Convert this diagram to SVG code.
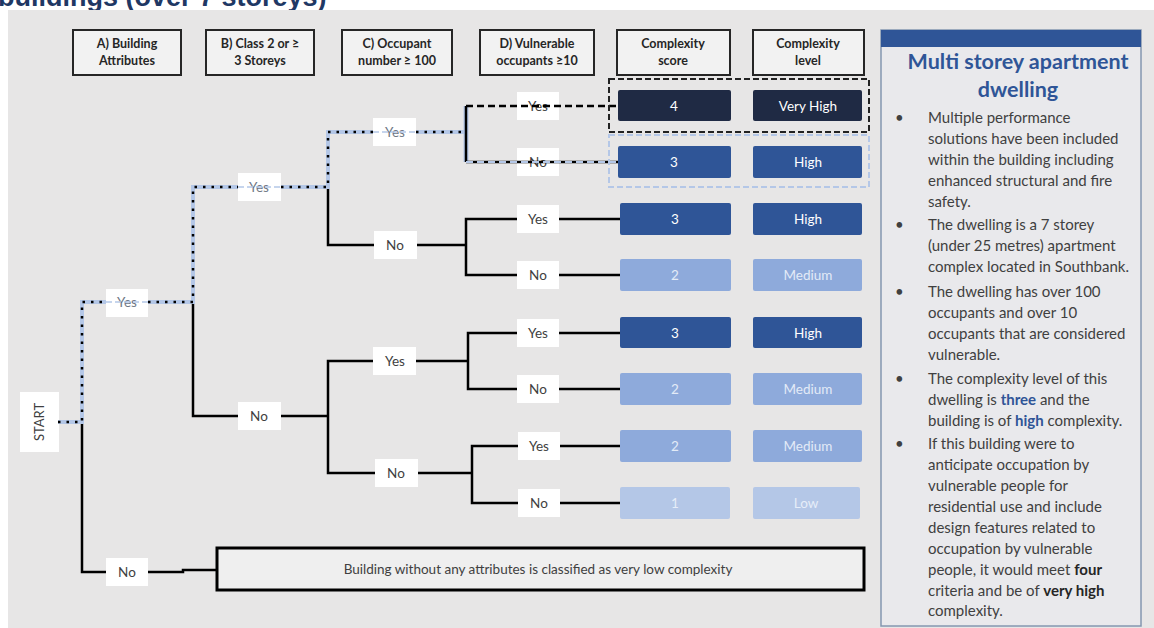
<svg xmlns="http://www.w3.org/2000/svg" width="1154" height="628" viewBox="0 0 1154 628">
<style>
.hdr rect{fill:#f2f2f2;stroke:#262626;stroke-width:2}
.hdr text{font-family:Lato,"Open Sans",sans-serif;font-weight:700;font-size:12.5px;fill:#262626;text-anchor:middle}
.lbl rect{fill:#ffffff}
.lbl text{font-family:Lato,"Open Sans",sans-serif;font-size:13.5px;fill:#404040;text-anchor:middle}
.res rect{rx:2}
.res text{font-family:Lato,"Open Sans",sans-serif;font-size:13.5px;text-anchor:middle}
.ln{fill:none;stroke:#000;stroke-width:2.5}
.hl{fill:none;stroke:#b4c7e7;stroke-width:4}
.dot{fill:none;stroke:#000;stroke-width:2.5;stroke-dasharray:2.5 6}
.strike{fill:none;stroke:#b4c7e7;stroke-width:1.5;stroke-dasharray:6 3}
.pt{font-family:Lato,"Open Sans",sans-serif;font-size:15px;fill:#404040}
</style>
<rect x="0" y="0" width="1154" height="628" fill="#ffffff"/>
<text x="-2" y="6" font-family="'Liberation Sans',Arial,sans-serif" font-weight="700" font-size="27" fill="#1f3864">buildings (over 7 storeys)</text>
<rect x="8" y="10" width="1146" height="618" fill="#e7e6e6"/>

<g id="headers" class="hdr">
<g id="hA"><rect x="73" y="30" width="108" height="45"/><text x="127" y="48">A) Building</text><text x="127" y="65">Attributes</text></g>
<g id="hB"><rect x="206" y="30" width="108" height="45"/><text x="260" y="48">B) Class 2 or ≥</text><text x="260" y="65">3 Storeys</text></g>
<g id="hC"><rect x="342" y="30" width="110" height="45"/><text x="397" y="48">C) Occupant</text><text x="397" y="65">number ≥ 100</text></g>
<g id="hD"><rect x="480" y="30" width="114" height="45"/><text x="537" y="48">D) Vulnerable</text><text x="537" y="65">occupants ≥10</text></g>
<g id="hScore"><rect x="617" y="30" width="113" height="45"/><text x="673" y="48">Complexity</text><text x="673" y="65">score</text></g>
<g id="hLevel"><rect x="753" y="30" width="111" height="45"/><text x="808" y="48">Complexity</text><text x="808" y="65">level</text></g>
</g>

<g id="start"><rect x="20" y="392" width="39" height="60" fill="#ffffff"/><text transform="translate(44,422) rotate(-90)" font-family="Lato,'Open Sans',sans-serif" font-size="13" fill="#404040" text-anchor="middle">START</text></g>

<g id="labels-under" class="lbl">
<g id="dYes1"><rect x="517" y="92" width="42" height="28"/><text x="538" y="111">Yes</text></g>
<g id="dNo1"><rect x="517" y="148" width="42" height="28"/><text x="538" y="167">No</text></g>
</g>

<g id="connectors">
<path class="ln" d="M82 422V572H183V570H216"/>
<path class="ln" d="M193 302V416H328"/>
<path class="ln" d="M328 187V245H466"/>
<path class="ln" d="M620 219H466V275H620"/>
<path class="ln" d="M328 416V361H468M328 416V473H472"/>
<path class="ln" d="M620 333H468V389H620"/>
<path class="ln" d="M620 446H472V503H620"/>
<path class="hl" d="M58 422H82V302H193V187H328V132H466"/>
<path class="dot" d="M58 422H82V302H106M148 302H193V187H238M281 187H328V132H373M416 132H466"/>
<path fill="none" stroke="#b4c7e7" stroke-width="5" d="M466 106V162"/>
<path class="ln" d="M466 106V162"/>
<path fill="none" stroke="#000" stroke-width="2.5" stroke-dasharray="7 4" d="M466 106H618"/>
<path class="ln" d="M466 162H618"/>
<path fill="none" stroke="#b4c7e7" stroke-width="2" stroke-dasharray="7 4" d="M466 162H618"/>
</g>

<g id="labels" class="lbl">
<g id="aYes"><rect x="106" y="289" width="42" height="28"/><text x="127" y="307" style="fill:#6f7785">Yes</text><path class="strike" d="M106 302H148"/></g>
<g id="bYes"><rect x="238" y="173" width="43" height="28"/><text x="259" y="192" style="fill:#6f7785">Yes</text><path class="strike" d="M238 187H281"/></g>
<g id="cYes1"><rect x="373" y="118" width="43" height="28"/><text x="395" y="137" style="fill:#6f7785">Yes</text><path class="strike" d="M373 132H416"/></g>
<g id="aNo"><rect x="106" y="558" width="42" height="28"/><text x="127" y="577">No</text></g>
<g id="bNo"><rect x="238" y="402" width="43" height="28"/><text x="259" y="421">No</text></g>
<g id="cNo1"><rect x="374" y="231" width="43" height="28"/><text x="395" y="250">No</text></g>
<g id="cYes2"><rect x="373" y="347" width="43" height="28"/><text x="395" y="366">Yes</text></g>
<g id="cNo2"><rect x="375" y="459" width="43" height="28"/><text x="396" y="478">No</text></g>
<g id="dYes2"><rect x="517" y="205" width="42" height="28"/><text x="538" y="224">Yes</text></g>
<g id="dNo2"><rect x="517" y="261" width="42" height="28"/><text x="538" y="280">No</text></g>
<g id="dYes3"><rect x="517" y="319" width="42" height="28"/><text x="538" y="338">Yes</text></g>
<g id="dNo3"><rect x="517" y="375" width="42" height="28"/><text x="538" y="394">No</text></g>
<g id="dYes4"><rect x="518" y="432" width="42" height="28"/><text x="539" y="451">Yes</text></g>
<g id="dNo4"><rect x="518" y="489" width="42" height="28"/><text x="539" y="508">No</text></g>
</g>
<g id="highlight-frames">
<rect x="609" y="79" width="260" height="53" fill="none" stroke="#222" stroke-width="2" stroke-dasharray="6 3"/>
<rect x="609" y="135" width="260" height="52" fill="none" stroke="#b4c7e7" stroke-width="2" stroke-dasharray="6 3"/>
</g>
<g id="results" class="res">
<g id="r1"><rect x="618" y="90" width="113" height="31" fill="#1f2a44"/><rect x="753" y="90" width="109" height="31" fill="#1f2a44"/><text x="674" y="111" fill="#fff">4</text><text x="808" y="111" fill="#fff">Very High</text></g>
<g id="r2"><rect x="618" y="146" width="113" height="32" fill="#2f5597"/><rect x="753" y="146" width="109" height="32" fill="#2f5597"/><text x="674" y="167" fill="#fff">3</text><text x="808" y="167" fill="#fff">High</text></g>
<g id="r3"><rect x="620" y="203" width="111" height="32" fill="#2f5597"/><rect x="753" y="203" width="109" height="32" fill="#2f5597"/><text x="675" y="224" fill="#fff">3</text><text x="808" y="224" fill="#fff">High</text></g>
<g id="r4"><rect x="620" y="259" width="111" height="32" fill="#8eaadb"/><rect x="753" y="259" width="109" height="32" fill="#8eaadb"/><text x="675" y="280" fill="#e3ebf7">2</text><text x="808" y="280" fill="#e3ebf7">Medium</text></g>
<g id="r5"><rect x="620" y="317" width="111" height="31" fill="#2f5597"/><rect x="753" y="317" width="109" height="31" fill="#2f5597"/><text x="675" y="338" fill="#fff">3</text><text x="808" y="338" fill="#fff">High</text></g>
<g id="r6"><rect x="620" y="373" width="111" height="32" fill="#8eaadb"/><rect x="753" y="373" width="109" height="32" fill="#8eaadb"/><text x="675" y="394" fill="#e3ebf7">2</text><text x="808" y="394" fill="#e3ebf7">Medium</text></g>
<g id="r7"><rect x="620" y="430" width="111" height="32" fill="#8eaadb"/><rect x="753" y="430" width="109" height="32" fill="#8eaadb"/><text x="675" y="451" fill="#e3ebf7">2</text><text x="808" y="451" fill="#e3ebf7">Medium</text></g>
<g id="r8"><rect x="620" y="487" width="110" height="32" fill="#b4c7e7"/><rect x="753" y="487" width="107" height="32" fill="#b4c7e7"/><text x="675" y="508" fill="#e6edf8">1</text><text x="806" y="508" fill="#e6edf8">Low</text></g>
</g>

<g id="verylow"><rect x="217" y="548" width="647" height="42" fill="#efefef" stroke="#000" stroke-width="3"/><text x="538" y="574" font-family="Lato,'Open Sans',sans-serif" font-size="13.5" fill="#404040" text-anchor="middle">Building without any attributes is classified as very low complexity</text></g>

<g id="panel">
<rect x="881" y="30" width="260" height="596" fill="#e9e9ec" stroke="#8497b0" stroke-width="1.5"/>
<rect x="881" y="30" width="260" height="17" fill="#2f5597"/>
<text x="1018" y="69" font-family="Lato,'Open Sans',sans-serif" font-weight="700" font-size="21.5" fill="#2f5597" text-anchor="middle">Multi storey apartment</text>
<text x="1018" y="97" font-family="Lato,'Open Sans',sans-serif" font-weight="700" font-size="21.5" fill="#2f5597" text-anchor="middle">dwelling</text>
<g class="pt">
<text x="895" y="123">•</text><text x="895" y="230">•</text><text x="895" y="297">•</text><text x="895" y="384">•</text><text x="895" y="449">•</text>
<text x="928" y="123">Multiple performance</text>
<text x="928" y="144">solutions have been included</text>
<text x="928" y="165">within the building including</text>
<text x="928" y="186">enhanced structural and fire</text>
<text x="928" y="207">safety.</text>
<text x="928" y="230">The dwelling is a 7 storey</text>
<text x="928" y="251">(under 25 metres) apartment</text>
<text x="928" y="272">complex located in Southbank.</text>
<text x="928" y="297">The dwelling has over 100</text>
<text x="928" y="318">occupants and over 10</text>
<text x="928" y="339">occupants that are considered</text>
<text x="928" y="360">vulnerable.</text>
<text x="928" y="384">The complexity level of this</text>
<text x="928" y="405">dwelling is <tspan font-weight="700" fill="#2f5597">three</tspan> and the</text>
<text x="928" y="426">building is of <tspan font-weight="700" fill="#2f5597">high</tspan> complexity.</text>
<text x="928" y="449">If this building were to</text>
<text x="928" y="470">anticipate occupation by</text>
<text x="928" y="491">vulnerable people for</text>
<text x="928" y="512">residential use and include</text>
<text x="928" y="533">design features related to</text>
<text x="928" y="554">occupation by vulnerable</text>
<text x="928" y="575">people, it would meet <tspan font-weight="700" fill="#262626">four</tspan></text>
<text x="928" y="596">criteria and be of <tspan font-weight="700" fill="#262626">very high</tspan></text>
<text x="928" y="616">complexity.</text>
</g>
</g>
</svg>
